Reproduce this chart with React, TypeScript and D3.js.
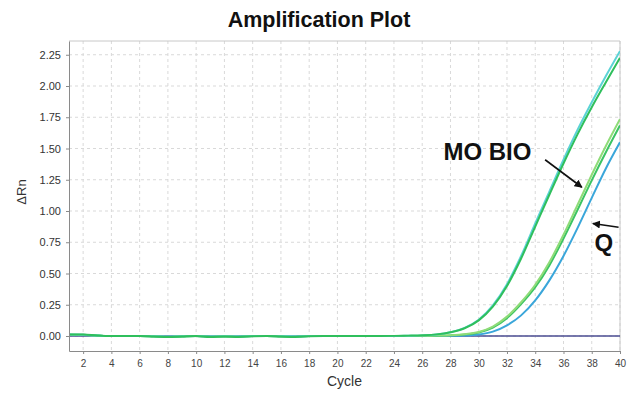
import React, { useEffect, useRef } from 'react';
import * as d3 from 'd3';

// cycle numbers on the x axis
const cycles = [1, 2, 3, 4, 5, 6, 7, 8, 9, 10, 11, 12, 13, 14, 15, 16, 17, 18, 19, 20,
  21, 22, 23, 24, 25, 26, 27, 28, 29, 30, 31, 32, 33, 34, 35, 36, 37, 38, 39, 40];

// delta Rn per well
const wellA1 = [0.012, 0.010, 0.004, 0, 0, 0, -0.002, -0.006, -0.002, 0, -0.004, -0.002, -0.004, 0, 0, -0.002, -0.004, 0, 0, 0,
  0, 0, 0, 0, 0.002, 0.005, 0.012, 0.030, 0.065, 0.130, 0.245, 0.415, 0.640, 0.900, 1.155, 1.410, 1.650, 1.870, 2.080, 2.280];
const wellA2 = [0.012, 0.012, 0.004, 0, 0, 0, -0.004, -0.008, -0.004, 0, -0.008, -0.004, -0.008, -0.002, 0, -0.004, -0.008, -0.002, 0, 0,
  0, 0, 0, 0.001, 0.003, 0.006, 0.013, 0.030, 0.062, 0.125, 0.235, 0.400, 0.620, 0.875, 1.130, 1.380, 1.615, 1.830, 2.030, 2.225];
const wellB1 = [0.010, 0.008, 0.003, 0, 0, 0, -0.002, -0.006, -0.002, 0, -0.006, -0.002, -0.006, 0, 0, -0.002, -0.006, 0, 0, 0,
  0, 0, 0, 0, 0, 0.001, 0.003, 0.006, 0.014, 0.032, 0.075, 0.155, 0.270, 0.410, 0.590, 0.810, 1.050, 1.290, 1.520, 1.735];
const wellB2 = [0.010, 0.010, 0.004, 0, 0, 0, -0.004, -0.008, -0.004, 0, -0.006, -0.004, -0.006, 0, 0, -0.004, -0.006, 0, 0, 0,
  0, 0, 0, 0, 0, 0.001, 0.002, 0.005, 0.012, 0.028, 0.068, 0.143, 0.255, 0.390, 0.565, 0.780, 1.010, 1.245, 1.470, 1.685];
const wellC = [0.008, 0.008, 0.003, 0, 0, 0, 0, -0.004, 0, 0, -0.004, 0, -0.004, 0, 0, 0, -0.004, 0, 0, 0,
  0, 0, 0, 0, 0, 0, 0, 0.001, 0.004, 0.012, 0.035, 0.085, 0.165, 0.285, 0.445, 0.640, 0.865, 1.105, 1.340, 1.550];
const wellNtc = [0, 0, 0, 0, 0, 0, 0, 0, 0, 0, 0, 0, 0, 0, 0, 0, 0, 0, 0, 0,
  0, 0, 0, 0, 0, 0, 0, 0, 0, 0, 0, 0, 0, 0, 0, 0, 0, 0, 0, 0];

const xTicks = [2, 4, 6, 8, 10, 12, 14, 16, 18, 20, 22, 24, 26, 28, 30, 32, 34, 36, 38, 40];
const yTicks = [0, 0.25, 0.5, 0.75, 1.0, 1.25, 1.5, 1.75, 2.0, 2.25];

const series = [
  { name: 'NTC', values: wellNtc, color: '#4b4d92', width: 1.6 },
  { name: 'C', values: wellC, color: '#3aa6da', width: 2 },
  { name: 'B2', values: wellB2, color: '#3cc463', width: 2 },
  { name: 'B1', values: wellB1, color: '#8fdc78', width: 2 },
  { name: 'A1', values: wellA1, color: '#5cd3d6', width: 2 },
  { name: 'A2', values: wellA2, color: '#2fbf5c', width: 2 },
];

const W = 640;
const H = 399;

const AmplificationPlot = () => {
  const svgRef = useRef<SVGSVGElement>(null);

  useEffect(() => {
    const svg = d3.select(svgRef.current);
    svg.selectAll('*').remove();

    const font = 'Arial, "Liberation Sans", sans-serif';
    const margin = { top: 41, right: 20, bottom: 48, left: 69 };

    const x = d3.scaleLinear().domain([1, 40]).range([margin.left, W - margin.right]);
    const y = d3.scaleLinear().domain([-0.12, 2.36]).range([H - margin.bottom, margin.top]);

    const [x0, x1] = x.range();
    const [y0, y1] = y.range();

    svg.append('rect').attr('width', W).attr('height', H).attr('fill', '#fff');

    // title
    svg.append('text')
      .attr('x', 319)
      .attr('y', 27)
      .attr('text-anchor', 'middle')
      .attr('font-family', font)
      .attr('font-weight', 'bold')
      .attr('font-size', 21.5)
      .attr('fill', '#111')
      .text('Amplification Plot');

    // dashed grid
    const grid = svg.append('g')
      .attr('stroke', '#d9d9d9')
      .attr('stroke-width', 1)
      .attr('stroke-dasharray', '3,3');
    grid.selectAll('.vg').data(xTicks).enter().append('line')
      .attr('x1', d => x(d)).attr('x2', d => x(d))
      .attr('y1', y1).attr('y2', y0);
    grid.selectAll('.hg').data(yTicks).enter().append('line')
      .attr('x1', x0).attr('x2', x1)
      .attr('y1', d => y(d)).attr('y2', d => y(d));

    // frame top/right
    svg.append('path')
      .attr('d', `M${x0},${y1}H${x1}V${y0}`)
      .attr('fill', 'none')
      .attr('stroke', '#c8c8c8');

    // curves
    svg.append('clipPath').attr('id', 'plotClip')
      .append('rect').attr('x', x0).attr('y', y1).attr('width', x1 - x0).attr('height', y0 - y1);

    const line = d3.line<number>()
      .x((_, i) => x(cycles[i]))
      .y(d => y(d))
      .curve(d3.curveMonotoneX);

    svg.append('g').attr('clip-path', 'url(#plotClip)')
      .selectAll('path')
      .data(series)
      .enter().append('path')
      .attr('fill', 'none')
      .attr('stroke', d => d.color)
      .attr('stroke-width', d => d.width)
      .attr('d', d => line(d.values));

    // y axis
    const yAxis = svg.append('g')
      .attr('transform', `translate(${x0},0)`)
      .call(d3.axisLeft(y).tickValues(yTicks).tickFormat(d3.format('.2f')).tickSize(3).tickPadding(5).tickSizeOuter(0));
    yAxis.select('.domain').attr('stroke', '#8a8a8a');
    yAxis.selectAll('.tick line').attr('stroke', '#8a8a8a');
    yAxis.selectAll('text').attr('font-family', font).attr('font-size', 11).attr('fill', '#333');

    // x axis
    const xAxis = svg.append('g')
      .attr('transform', `translate(0,${y0})`)
      .call(d3.axisBottom(x).tickValues(xTicks).tickSize(3).tickPadding(6).tickSizeOuter(0));
    xAxis.select('.domain').attr('stroke', '#8a8a8a');
    xAxis.selectAll('.tick line').attr('stroke', '#8a8a8a');
    xAxis.selectAll('text').attr('font-family', font).attr('font-size', 10).attr('fill', '#444');

    // axis titles
    svg.append('text')
      .attr('x', (x0 + x1) / 2)
      .attr('y', 386)
      .attr('text-anchor', 'middle')
      .attr('font-family', font)
      .attr('font-size', 14)
      .attr('fill', '#333')
      .text('Cycle');

    svg.append('text')
      .attr('transform', `translate(26,192) rotate(-90)`)
      .attr('text-anchor', 'middle')
      .attr('font-family', font)
      .attr('font-size', 13)
      .attr('fill', '#333')
      .text('ΔRn');

    // annotations (positioned in data space)
    svg.append('defs').append('marker')
      .attr('id', 'arrowHead')
      .attr('viewBox', '0 0 10 10')
      .attr('refX', 9).attr('refY', 5)
      .attr('markerWidth', 5).attr('markerHeight', 5)
      .attr('orient', 'auto')
      .append('path').attr('d', 'M0,0L10,5L0,10z').attr('fill', '#111');

    svg.append('text')
      .attr('x', x(27.5)).attr('y', y(1.41))
      .attr('font-family', font).attr('font-weight', 'bold').attr('font-size', 24)
      .attr('fill', '#111')
      .text('MO BIO');
    svg.append('line')
      .attr('x1', x(34.7)).attr('y1', y(1.41))
      .attr('x2', x(37.3)).attr('y2', y(1.19))
      .attr('stroke', '#111').attr('stroke-width', 1.6)
      .attr('marker-end', 'url(#arrowHead)');

    svg.append('text')
      .attr('x', x(38.86)).attr('y', y(0.68))
      .attr('text-anchor', 'middle')
      .attr('font-family', font).attr('font-weight', 'bold').attr('font-size', 24)
      .attr('fill', '#111')
      .text('Q');
    svg.append('line')
      .attr('x1', x(39.9)).attr('y1', y(0.87))
      .attr('x2', x(38.08)).attr('y2', y(0.9))
      .attr('stroke', '#111').attr('stroke-width', 1.6)
      .attr('marker-end', 'url(#arrowHead)');
  }, []);

  return (
    <svg
      ref={svgRef}
      width={W}
      height={H}
      style={{ position: 'absolute', left: 0, top: 0, display: 'block' }}
    />
  );
};

export default function App() {
  return <AmplificationPlot />;
}
